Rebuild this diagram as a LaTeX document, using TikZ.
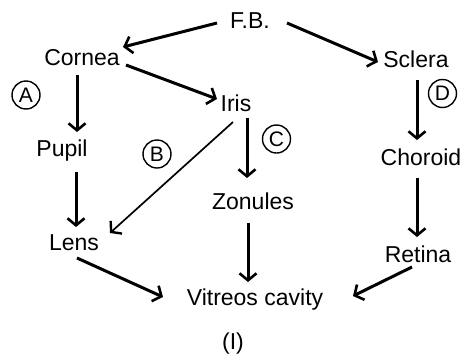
\documentclass[tikz,border=0pt]{standalone}
\usepackage{fontspec}
\setmainfont{Liberation Sans}
\usetikzlibrary{arrows.meta}
\begin{document}
\begin{tikzpicture}[x=1pt,y=-1pt,
  lbl/.style={font=\fontsize{23}{25}\selectfont, inner sep=0pt, text height=16pt, text depth=5pt},
  circ/.style={draw, circle, line width=1.4pt, minimum size=28pt, inner sep=0pt, font=\fontsize{21}{23}\selectfont},
  arr/.style={line width=3pt, -{Straight Barb[length=7pt,width=17pt,line width=2.6pt]}},
  thinarr/.style={line width=1.7pt, -{Straight Barb[length=7pt,width=17pt,line width=2.4pt]}}]
\useasboundingbox (0,0) rectangle (469,354);
\node[lbl] (fb) at (250,22.5) {F.B.};
\node[lbl] (cornea) at (82,59.5) {Cornea};
\node[lbl] (sclera) at (416,61.5) {Sclera};
\node[lbl] (iris) at (236,105.5) {Iris};
\node[lbl] (pupil) at (62,150.5) {Pupil};
\node[lbl] (choroid) at (421,159.5) {Choroid};
\node[lbl] (zonules) at (253,203.5) {Zonules};
\node[lbl] (lens) at (74,244.5) {Lens};
\node[lbl] (retina) at (418,256.5) {Retina};
\node[lbl] (vit) at (255,299.5) {Vitreos cavity};
\node[lbl] (fig) at (233,343.5) {(I)};
\node[circ] (ca) at (26,95) {A};
\node[circ] (cb) at (157,154) {B};
\node[circ] (cc) at (276.5,139) {C};
\node[circ] (cd) at (442.5,93.5) {D};
\draw[arr] ([shift={(-33,0.5)}]fb.center) -- ([shift={(41,-12.5)}]cornea.center);
\draw[arr] ([shift={(37,0.5)}]fb.center) -- ([shift={(-38,0.5)}]sclera.center);
\draw[arr] ([shift={(44,5.5)}]cornea.center) -- ([shift={(-19,-6.5)}]iris.center);
\draw[arr] ([shift={(-5,15.5)}]cornea.center) -- ([shift={(15,-18.5)}]pupil.center);
\draw[arr] ([shift={(14,21.5)}]pupil.center) -- ([shift={(2,-17.5)}]lens.center);
\draw[arr] ([shift={(11,12.5)}]iris.center) -- ([shift={(-6,-25.5)}]zonules.center);
\draw[thinarr] ([shift={(-3,16.5)}]iris.center) -- ([shift={(36,-11.5)}]lens.center);
\draw[arr] ([shift={(1,18.5)}]sclera.center) -- ([shift={(-4,-19.5)}]choroid.center);
\draw[arr] ([shift={(-4,18.5)}]choroid.center) -- ([shift={(-1,-19.5)}]retina.center);
\draw[arr] ([shift={(-5,19.5)}]zonules.center) -- ([shift={(-7,-17.5)}]vit.center);
\draw[arr] ([shift={(3,13.5)}]lens.center) -- ([shift={(-92,-2.5)}]vit.center);
\draw[arr] ([shift={(-6,10.5)}]retina.center) -- ([shift={(98,-3.5)}]vit.center);
\end{tikzpicture}
\end{document}
